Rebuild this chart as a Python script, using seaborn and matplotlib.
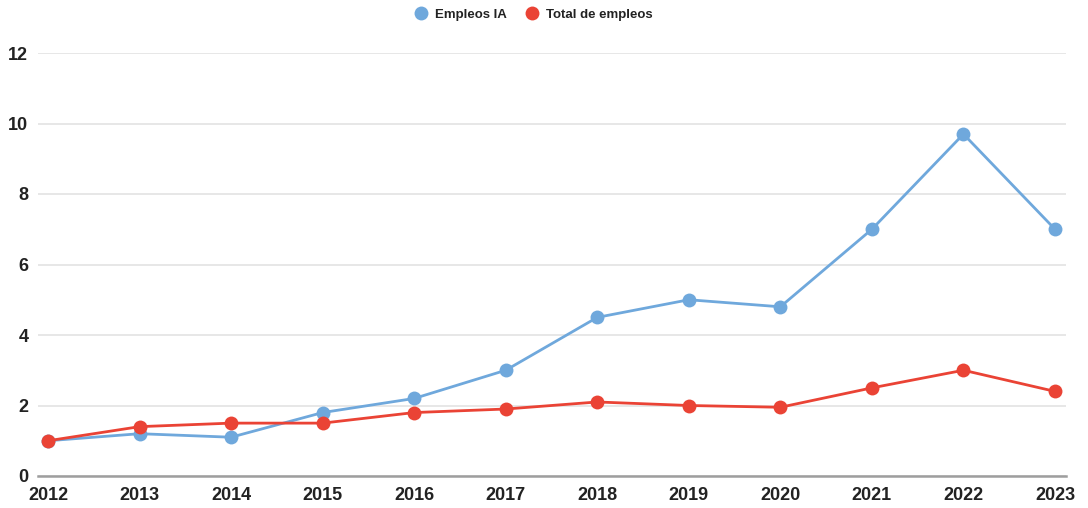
import matplotlib
matplotlib.use("Agg")
import matplotlib.pyplot as plt
import seaborn as sns
import pandas as pd
from matplotlib.lines import Line2D

years = [2012, 2013, 2014, 2015, 2016, 2017, 2018, 2019, 2020, 2021, 2022, 2023]
empleos_ia = [1.0, 1.2, 1.1, 1.8, 2.2, 3.0, 4.5, 5.0, 4.8, 7.0, 9.7, 7.0]
total_empleos = [1.0, 1.4, 1.5, 1.5, 1.8, 1.9, 2.1, 2.0, 1.95, 2.5, 3.0, 2.4]
series_names = ["Empleos IA", "Total de empleos"]
colors = ["#6FA8DC", "#EA4335"]
yticks = [0, 2, 4, 6, 8, 10, 12]

df = pd.DataFrame({
    "year": years * 2,
    "value": empleos_ia + total_empleos,
    "series": [series_names[0]] * len(years) + [series_names[1]] * len(years),
})

sns.set_style("white")
plt.rcParams['font.family'] = ['Liberation Sans', 'DejaVu Sans']

fig = plt.figure(figsize=(10.88, 5.08), dpi=100)
ax = fig.add_axes([38/1088, (508-476)/508, (1066-38)/1088, (476-53)/508])

sns.lineplot(data=df, x="year", y="value", hue="series", palette=colors,
             marker="o", markersize=10, markeredgewidth=0, linewidth=2,
             ax=ax, legend=False, zorder=3)

ax.set_xlim(2012 - 10/91.55, 2023 + 11/91.55)
ax.set_ylim(0, 12)
ax.set_yticks(yticks)
ax.set_xticks(years)
ax.set_xticklabels([str(y) for y in years], fontweight="bold", fontsize=13, color="#222222")
ax.set_yticklabels([str(y) for y in yticks], fontweight="bold", fontsize=13, color="#222222")
ax.tick_params(axis="both", length=0)
ax.tick_params(axis="y", pad=7)
ax.tick_params(axis="x", pad=8)
ax.set_xlabel("")
ax.set_ylabel("")
ax.grid(axis="y", color="#e3e3e3", linewidth=1.2, zorder=0)
ax.grid(axis="x", visible=False)
for s in ["top", "right", "left"]:
    ax.spines[s].set_visible(False)
ax.spines["bottom"].set_color("#9e9e9e")
ax.spines["bottom"].set_linewidth(1.8)
ax.set_axisbelow(True)
ax.patch.set_alpha(0)
for line in ax.lines:
    line.set_clip_on(False)

handles = [Line2D([], [], marker="o", linestyle="", color=c, markersize=10, markeredgewidth=0) for c in colors]
leg = fig.legend(handles, series_names, loc="center", bbox_to_anchor=(532/1088, 1 - 15/508),
                 ncol=2, frameon=False, prop={"weight": "bold", "size": 9.5},
                 handletextpad=0.3, columnspacing=1.2, handlelength=1.5)
for t in leg.get_texts():
    t.set_color("#222222")

fig.savefig("out.png", dpi=100)
